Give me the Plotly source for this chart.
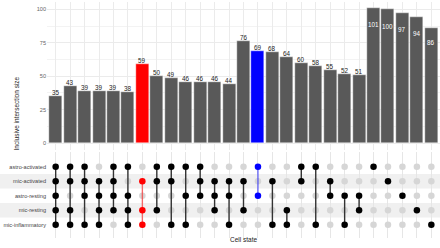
import plotly.graph_objects as go

set_names = ["astro-activated", "mic-activated", "astro-resting", "mic-resting", "mic-inflammatory"]

sizes = [35, 43, 39, 39, 39, 38, 59, 50, 49, 46, 46, 46, 44, 76, 69, 68, 64, 60, 58, 55, 52, 51,
         101, 100, 97, 94, 86]

combos = [
    ["astro-activated", "mic-activated", "astro-resting", "mic-resting", "mic-inflammatory"],
    ["astro-activated", "mic-activated", "mic-resting", "mic-inflammatory"],
    ["astro-activated", "mic-activated", "astro-resting", "mic-inflammatory"],
    ["mic-activated", "astro-resting", "mic-resting", "mic-inflammatory"],
    ["astro-activated", "mic-activated", "astro-resting", "mic-resting"],
    ["astro-activated", "astro-resting", "mic-resting", "mic-inflammatory"],
    ["mic-activated", "mic-resting", "mic-inflammatory"],
    ["astro-activated", "mic-activated", "mic-resting"],
    ["astro-activated", "mic-activated", "mic-inflammatory"],
    ["astro-activated", "astro-resting", "mic-inflammatory"],
    ["astro-activated", "mic-activated", "astro-resting"],
    ["mic-activated", "astro-resting", "mic-resting"],
    ["mic-activated", "astro-resting", "mic-inflammatory"],
    ["mic-activated", "mic-resting"],
    ["astro-activated", "astro-resting"],
    ["mic-activated", "mic-inflammatory"],
    ["mic-resting", "mic-inflammatory"],
    ["astro-activated", "mic-activated"],
    ["astro-activated", "mic-inflammatory"],
    ["mic-activated", "astro-resting"],
    ["astro-resting", "mic-inflammatory"],
    ["astro-resting", "mic-resting"],
    ["astro-activated"],
    ["mic-activated"],
    ["astro-resting"],
    ["mic-resting"],
    ["mic-inflammatory"],
]

highlight = {7: "red", 15: "blue"}   # column number -> colour
inside_labels = [23, 24, 25, 26, 27]  # columns whose labels sit inside the bar

FONT = "Liberation Sans, Arial, sans-serif"
BAR_GRAY = "#595959"
HL = {"red": ("#FF0000", "rgba(255,0,0,0.55)"), "blue": ("#0000FF", "rgba(0,0,255,0.55)")}

n = len(sizes)
xs = list(range(1, n + 1))
row_y = {name: len(set_names) - i for i, name in enumerate(set_names)}

fig = go.Figure()

bar_colors = [HL[highlight[x]][0] if x in highlight else BAR_GRAY for x in xs]
fig.add_trace(go.Bar(x=xs, y=sizes, width=0.9, marker=dict(color=bar_colors,
                     line=dict(color="white", width=0.4)), xaxis="x", yaxis="y",
                     hoverinfo="skip", showlegend=False))

# matrix: inactive dots
in_x, in_y = [], []
for x, combo in zip(xs, combos):
    for name in set_names:
        if name not in combo:
            in_x.append(x)
            in_y.append(row_y[name])
fig.add_trace(go.Scatter(x=in_x, y=in_y, mode="markers", xaxis="x2", yaxis="y2",
                         marker=dict(color="#D6D6D6", size=6.5), hoverinfo="skip", showlegend=False))

# matrix: active dots and connecting lines
for x, combo in zip(xs, combos):
    ys = sorted(row_y[name] for name in combo)
    if x in highlight:
        dot_c, line_c = HL[highlight[x]]
    else:
        dot_c, line_c = "#000000", "#333333"
    if len(ys) > 1:
        fig.add_trace(go.Scatter(x=[x, x], y=[ys[0], ys[-1]], mode="lines", xaxis="x2", yaxis="y2",
                                 line=dict(color=line_c, width=1.4), hoverinfo="skip", showlegend=False))
    fig.add_trace(go.Scatter(x=[x] * len(ys), y=ys, mode="markers", xaxis="x2", yaxis="y2",
                             marker=dict(color=dot_c, size=6.5), hoverinfo="skip", showlegend=False))

# bar labels
for x, v in zip(xs, sizes):
    if x in inside_labels:
        fig.add_annotation(x=x, y=v * 0.875, xref="x", yref="y", text=str(v), showarrow=False,
                           yanchor="middle", font=dict(family=FONT, size=6.3, color="white"))
    else:
        fig.add_annotation(x=x, y=v, xref="x", yref="y", text=str(v), showarrow=False,
                           yanchor="bottom", yshift=-2, font=dict(family=FONT, size=6.3, color="#222222"))

# stripes for alternating rows
for name in ["mic-activated", "mic-resting"]:
    fig.add_shape(type="rect", xref="paper", yref="y2", x0=0, x1=1,
                  y0=row_y[name] - 0.5, y1=row_y[name] + 0.5,
                  fillcolor="#F0F0F0", line=dict(width=0), layer="below")

fig.add_annotation(text="Inclusive intersection size", xref="paper", yref="paper",
                   x=10 / 440, y=1 - 75 / 248, textangle=-90, showarrow=False,
                   font=dict(family=FONT, size=6.5, color="#222222"))
fig.add_annotation(text="Cell state", xref="paper", yref="paper",
                   x=243.5 / 440, y=1 - 245 / 248, showarrow=False,
                   font=dict(family=FONT, size=6.5, color="#222222"))

fig.update_layout(
    width=440, height=248,
    margin=dict(l=0, r=0, t=0, b=0),
    paper_bgcolor="white", plot_bgcolor="rgba(0,0,0,0)",
    bargap=0, showlegend=False, hovermode=False,
    xaxis=dict(domain=[47 / 440, 1], range=[0.4, n + 0.6], anchor="y",
               tickvals=xs, showticklabels=False, ticks="",
               showgrid=True, gridcolor="#EBEBEB", gridwidth=0.6, zeroline=False, showline=False),
    yaxis=dict(domain=[1 - 150 / 248, 1 - 2 / 248], range=[-5.2, 105.5], anchor="x",
               tickvals=[0, 25, 50, 75, 100], ticks="",
               tickfont=dict(family=FONT, size=5.6, color="#666666"),
               showgrid=True, gridcolor="#EBEBEB", gridwidth=0.8, zeroline=False,
               minor=dict(dtick=12.5, tick0=0, showgrid=True, gridcolor="#F3F3F3", gridwidth=0.5)),
    xaxis2=dict(domain=[47 / 440, 1], range=[0.4, n + 0.6], anchor="y2",
                tickvals=xs, showticklabels=False, ticks="",
                showgrid=True, gridcolor="#E6E6E6", gridwidth=0.5, zeroline=False, showline=False),
    yaxis2=dict(domain=[1 - 238 / 248, 1 - 152 / 248], range=[0.083, 6.014], anchor="x2",
                tickvals=[row_y[s] for s in set_names], ticktext=set_names, ticks="",
                tickfont=dict(family=FONT, size=5.6, color="#444444"),
                showgrid=False, zeroline=False),
)

fig.write_html("out.html", config={"displayModeBar": False},
               post_script="document.body.style.margin='0px';document.body.style.overflow='hidden';")
